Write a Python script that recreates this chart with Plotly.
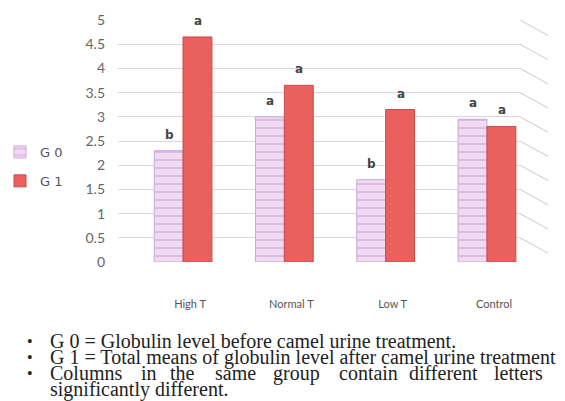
import plotly.graph_objects as go

categories = ["High T", "Normal T", "Low T", "Control"]
g0_values = [2.3, 3.0, 1.7, 2.95]
g1_values = [4.65, 3.65, 3.15, 2.8]
g0_letters = ["b", "a", "b", "a"]
g1_letters = ["a", "a", "a", "a"]
y_ticks = [0, 0.5, 1, 1.5, 2, 2.5, 3, 3.5, 4, 4.5, 5]
notes = [
    "G 0 = Globulin level before camel urine treatment.",
    "G 1 = Total means of globulin level after camel urine treatment",
    "Columns in the same group contain different letters",
    "significantly different.",
]

L, R, T, B = 118, 45, 20, 139
W, H = 565, 401
PW, PH = W - L - R, H - T - B


def px(x):
    return (x - L) / PW


def py(y):
    return (H - B - y) / PH


fig = go.Figure()
fig.add_trace(go.Bar(
    x=categories, y=g0_values, name="G 0", legendgroup="g0",
    marker=dict(color="#efd3ee", line=dict(color="#c9a9d6", width=1),
                pattern=dict(shape="-", fgcolor="#ad9ad6", bgcolor="#f3d9f0", size=8, solidity=0.22)),
))
fig.add_trace(go.Bar(
    x=categories, y=g1_values, name="G 1", legendgroup="g1",
    marker=dict(color="#e9605c", line=dict(color="#c94a48", width=1)),
))

annotations = []
for cat, v, t in zip(categories, g0_values, g0_letters):
    annotations.append(dict(x=cat, y=v, xref="x", yref="y", text=f"<b>{t}</b>", showarrow=False,
                            xshift=-14, yshift=7, yanchor="bottom",
                            font=dict(family="DejaVu Sans", size=12, color="#444")))
for cat, v, t in zip(categories, g1_values, g1_letters):
    annotations.append(dict(x=cat, y=v, xref="x", yref="y", text=f"<b>{t}</b>", showarrow=False,
                            xshift=15, yshift=7, yanchor="bottom",
                            font=dict(family="DejaVu Sans", size=12, color="#444")))

shapes = []
for v in y_ticks:
    shapes.append(dict(type="line", xref="paper", yref="y", x0=1.0, x1=1.07, y0=v, y1=v - 0.32,
                       line=dict(color="#cfc6d6", width=1)))
shapes.append(dict(type="line", xref="paper", yref="y", x0=0.02, x1=1.07, y0=-0.43, y1=-0.43,
                   line=dict(color="#d8cfe0", width=1)))
shapes.append(dict(type="line", xref="paper", yref="y", x0=-0.02, x1=0.02, y0=-0.1, y1=-0.43,
                   line=dict(color="#d8cfe0", width=1)))

ys = [341, 357, 373, 389]
for i, (t, yy) in enumerate(zip(notes, ys)):
    if i < 3:
        annotations.append(dict(xref="paper", yref="paper", x=px(25), y=py(yy),
                                text="•", showarrow=False, xanchor="left", yanchor="middle",
                                font=dict(family="Liberation Serif", size=16, color="#222")))
    if i == 2:
        words = t.split(" ")
        xs = [48, 139, 168, 213, 271, 337, 407, 492]
        for w, xx in zip(words, xs):
            annotations.append(dict(xref="paper", yref="paper", x=px(xx), y=py(yy),
                                    text=w, showarrow=False, xanchor="left", yanchor="middle",
                                    font=dict(family="Liberation Serif", size=20, color="#222")))
    else:
        annotations.append(dict(xref="paper", yref="paper", x=px(48), y=py(yy),
                                text=t, showarrow=False, xanchor="left", yanchor="middle",
                                font=dict(family="Liberation Serif", size=20, color="#222")))

fig.update_layout(
    width=W, height=H,
    margin=dict(l=L, r=R, t=T, b=B, autoexpand=False),
    paper_bgcolor="white", plot_bgcolor="white",
    barmode="group", bargap=0.43, bargroupgap=0.0,
    showlegend=True,
    legend=dict(x=px(0), y=py(137), xanchor="left", yanchor="top", tracegroupgap=9,
                font=dict(family="DejaVu Sans", size=13, color="#555"), itemwidth=30),
    xaxis=dict(range=[-0.642, 3.326], showgrid=False, showline=False, ticks="",
               tickfont=dict(family="Lato", size=11, color="#555"), ticklabelstandoff=34,
               ticklabelshift=7),
    yaxis=dict(range=[0, 5], tickvals=y_ticks, ticktext=[f"{v:g}" for v in y_ticks],
               showgrid=True, gridcolor="#ddd3e0", gridwidth=1, zeroline=False, showline=False,
               tickfont=dict(family="Lato", size=14, color="#666"), ticklabelstandoff=12),
    shapes=shapes,
    annotations=annotations,
)

fig.write_html("out.html")
